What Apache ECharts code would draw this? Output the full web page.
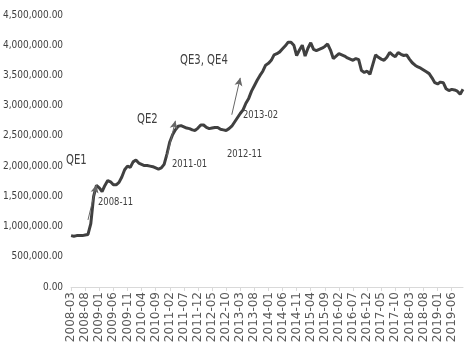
<!DOCTYPE html>
<html lang="en">
<head>
	<meta charset="UTF-8">
	<title>Monetary base</title>
	<script src="https://cdn.jsdelivr.net/npm/echarts@6/dist/echarts.min.js"></script>
	<style>
		html, body { margin: 0; padding: 0; background: #fff; }
		#main { width: 473px; height: 355px; }
	</style>
</head>
<body>
	<div id="main"></div>
	<script>
		// monthly, 2008-03 .. 2019-10, values in millions
		var months = [];
		for (var y = 2008; y <= 2019; y++) {
			for (var mo = 1; mo <= 12; mo++) {
				if (y == 2008 && mo < 3) continue;
				if (y == 2019 && mo > 10) break;
				months.push(y + '-' + (mo < 10 ? '0' + mo : mo));
			}
		}

		var base = [
			0.85, 0.84, 0.85, 0.85, 0.85, 0.86, 0.87, 1.05, 1.50, 1.68,
			1.64, 1.58, 1.68, 1.76, 1.74, 1.69, 1.69, 1.73, 1.82, 1.94,
			2.00, 1.98, 2.07, 2.10, 2.05, 2.03, 2.01, 2.01, 2.00, 1.99,
			1.97, 1.95, 1.97, 2.03, 2.20, 2.40, 2.52, 2.60, 2.66, 2.67,
			2.65, 2.63, 2.62, 2.60, 2.59, 2.63, 2.68, 2.68, 2.64, 2.62,
			2.63, 2.64, 2.64, 2.61, 2.60, 2.59, 2.62, 2.66, 2.73, 2.80,
			2.87, 2.93, 3.04, 3.12, 3.24, 3.33, 3.42, 3.50, 3.57, 3.67,
			3.70, 3.75, 3.84, 3.86, 3.89, 3.94, 3.99, 4.05, 4.05, 4.00,
			3.83, 3.92, 4.00, 3.82, 3.95, 4.04, 3.93, 3.91, 3.93, 3.95,
			3.98, 4.02, 3.92, 3.78, 3.82, 3.86, 3.84, 3.82, 3.79, 3.77,
			3.75, 3.78, 3.76, 3.58, 3.55, 3.57, 3.52, 3.68, 3.84, 3.80,
			3.77, 3.75, 3.80, 3.88, 3.84, 3.81, 3.88, 3.85, 3.83, 3.84,
			3.77, 3.71, 3.67, 3.64, 3.62, 3.59, 3.56, 3.53, 3.46, 3.38,
			3.36, 3.39, 3.38, 3.28, 3.25, 3.27, 3.26, 3.24, 3.19, 3.27
		];

		// arrows: [from, to] as [month, value]
		var arrows = [
			[['2008-09', 1.11], ['2008-12', 1.69]],
			[['2011-01', 2.15], ['2011-04', 2.75]],
			[['2012-12', 2.85], ['2013-03', 3.46]]
		];

		// annotation texts
		var notes = ['QE1', '2008-11', 'QE2', '2011-01', '2012-11', '2013-02', 'QE3, QE4'];
		var noteFont = "'DejaVu Sans Condensed', 'Liberation Sans', sans-serif";

		function fmt(v) {
			var n = Math.round(v * 1000000);
			return n.toString().replace(/\B(?=(\d{3})+(?!\d))/g, ',') + '.00';
		}

		function note(txt, x, y, size, sx) {
			return {
				type: 'text', x: x, y: y, scaleX: sx, silent: true,
				style: { text: txt, fill: '#404040', font: size + 'px ' + noteFont, verticalAlign: 'top' }
			};
		}

		var option = {
			animation: false,
			grid: { left: 65, right: 10, top: 15, bottom: 68 },
			xAxis: {
				type: 'category',
				data: months,
				boundaryGap: false,
				axisLine: { lineStyle: { color: '#d9d9d9' } },
				axisTick: { interval: 4, length: 4, lineStyle: { color: '#d9d9d9' } },
				axisLabel: {
					interval: 4, rotate: 90, margin: 5,
					color: '#595959', fontSize: 12, fontFamily: 'DejaVu Sans'
				}
			},
			yAxis: {
				type: 'value',
				min: 0, max: 4.5, interval: 0.5,
				axisLine: { show: false },
				axisTick: { show: false },
				splitLine: { show: false },
				axisLabel: {
					margin: 8, color: '#404040', fontSize: 10, fontFamily: noteFont,
					formatter: fmt
				}
			},
			series: [{
				type: 'line',
				data: base,
				showSymbol: false,
				lineStyle: { color: '#404040', width: 3 },
				markLine: {
					silent: true,
					symbol: ['none', 'arrow'],
					symbolSize: [6, 8],
					label: { show: false },
					lineStyle: { color: '#666', width: 1, type: 'solid' },
					data: arrows.map(function (a) {
						return [{ coord: a[0] }, { coord: a[1] }];
					})
				}
			}],
			graphic: [
				note(notes[0], 66, 153, 14, 0.8),
				note(notes[1], 98, 197, 11, 0.85),
				note(notes[2], 137, 112, 14, 0.8),
				note(notes[3], 172, 159, 11, 0.85),
				note(notes[4], 227, 149, 11, 0.85),
				note(notes[5], 243, 110, 11, 0.85),
				note(notes[6], 180, 53, 14, 0.8)
			]
		};

		var myChart = echarts.init(document.getElementById('main'));
		myChart.setOption(option);
	</script>
</body>
</html>
